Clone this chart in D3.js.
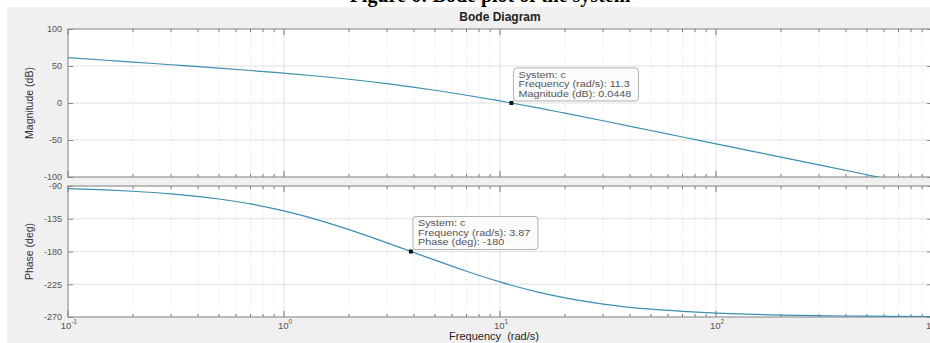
<!DOCTYPE html>
<html>
<head>
<meta charset="utf-8">
<script src="https://cdn.jsdelivr.net/npm/d3@7"></script>
<style>
  body { margin: 0; background: #fff; }
  svg { display: block; }
  text { font-family: "Liberation Sans", Arial, sans-serif; }
</style>
</head>
<body>
<div id="chart"></div>
<script>
// Frequencies (rad/s)
const freq = [0.1, 0.15, 0.2, 0.3, 0.5, 0.7, 1, 1.5, 2, 3, 3.87, 5, 7, 10, 11.3, 15, 20, 30, 50, 70, 100, 150, 200, 300, 500, 700, 1000];
// Magnitude (dB)
const magnitude = [61.4, 57.8, 55.3, 51.7, 47.1, 43.9, 40.3, 35.8, 32.1, 26.1, 21.8, 17.2, 10.5, 2.8, 0.0, -6.7, -13.8, -24.0, -37.2, -45.9, -55.2, -65.7, -73.2, -83.7, -97.0, -105.8, -115.1];
// Phase (deg)
const phase = [-93.6, -95.4, -97.2, -100.8, -107.9, -114.6, -124.2, -138.2, -149.9, -168.1, -180, -191.9, -207.1, -221.8, -226.4, -235.8, -243.7, -252.2, -259.2, -262.2, -264.6, -266.4, -267.3, -268.2, -268.9, -269.2, -269.5];

const magTicks = [-100, -50, 0, 50, 100];
const phaseTicks = [-270, -225, -180, -135, -90];
const decades = [0.1, 1, 10, 100, 1000];

const magTip = { w: 11.3, v: 0.0448, lines: ["System: c", "Frequency (rad/s): 11.3", "Magnitude (dB): 0.0448"] };
const phaseTip = { w: 3.87, v: -180, lines: ["System: c", "Frequency (rad/s): 3.87", "Phase (deg): -180"] };

const W = 930, H = 343;
const lineColor = "#3d8fae";

const svg = d3.select("#chart").append("svg")
    .attr("width", W)
    .attr("height", H);

// cropped caption strip above the figure
svg.append("text")
    .attr("x", 490).attr("y", 2)
    .attr("text-anchor", "middle")
    .style("font-family", "'Liberation Serif', 'DejaVu Serif', serif")
    .style("font-weight", "bold")
    .style("font-size", "20px")
    .text("Figure 6: Bode plot of the system");

// figure background
svg.append("rect")
    .attr("x", 7).attr("y", 7)
    .attr("width", W - 7).attr("height", H - 7)
    .attr("fill", "#f0f0f0");

const x = d3.scaleLog().domain([0.1, 1000]).range([68, 932]);
const yMag = d3.scaleLinear().domain([-100, 100]).range([177, 29]);
const yPh = d3.scaleLinear().domain([-270, -90]).range([317, 186]);

// minor decade positions 2..9
const minor = [];
decades.slice(0, -1).forEach(d => { for (let k = 2; k <= 9; k++) minor.push(d * k); });

function panel(y, ticks, values, label, tip, clipId) {
  const [y0, y1] = y.range(); // bottom, top
  const g = svg.append("g");

  g.append("rect")
      .attr("x", x.range()[0]).attr("y", y1)
      .attr("width", x.range()[1] - x.range()[0]).attr("height", y0 - y1)
      .attr("fill", "#fff");

  // minor vertical grid (dotted)
  g.selectAll(".minor-grid").data(minor).enter().append("line")
      .attr("x1", d => x(d)).attr("x2", d => x(d))
      .attr("y1", y1).attr("y2", y0)
      .attr("stroke", "#e2e2e2")
      .attr("stroke-dasharray", "1,2");

  // major grid
  g.selectAll(".vgrid").data(decades).enter().append("line")
      .attr("x1", d => x(d)).attr("x2", d => x(d))
      .attr("y1", y1).attr("y2", y0)
      .attr("stroke", "#e0e0e0");
  g.selectAll(".hgrid").data(ticks).enter().append("line")
      .attr("x1", x.range()[0]).attr("x2", x.range()[1])
      .attr("y1", d => y(d)).attr("y2", d => y(d))
      .attr("stroke", "#e0e0e0");

  // y axis (ticks point inward)
  const ax = g.append("g")
      .attr("transform", `translate(${x.range()[0]},0)`)
      .call(d3.axisLeft(y).tickValues(ticks).tickSize(-5).tickPadding(6).tickFormat(d => d));
  ax.select(".domain").remove();
  ax.selectAll("line").attr("stroke", "#888");
  ax.selectAll("text").attr("fill", "#555").style("font-size", "9px");

  const axr = g.append("g")
      .attr("transform", `translate(${x.range()[1]},0)`)
      .call(d3.axisRight(y).tickValues(ticks).tickSize(-5).tickFormat(""));
  axr.select(".domain").remove();
  axr.selectAll("line").attr("stroke", "#888");

  // x ticks on top and bottom edges, inward
  [[y0, -1], [y1, 1]].forEach(([yy, dir]) => {
    g.selectAll(null).data(minor).enter().append("line")
        .attr("x1", d => x(d)).attr("x2", d => x(d))
        .attr("y1", yy).attr("y2", yy + dir * 3)
        .attr("stroke", "#777");
    g.selectAll(null).data(decades).enter().append("line")
        .attr("x1", d => x(d)).attr("x2", d => x(d))
        .attr("y1", yy).attr("y2", yy + dir * 6)
        .attr("stroke", "#777");
  });

  // box
  g.append("rect")
      .attr("x", x.range()[0]).attr("y", y1)
      .attr("width", x.range()[1] - x.range()[0]).attr("height", y0 - y1)
      .attr("fill", "none")
      .attr("stroke", "#8a8a8a");

  // curve
  svg.append("clipPath").attr("id", clipId).append("rect")
      .attr("x", x.range()[0]).attr("y", y1)
      .attr("width", x.range()[1] - x.range()[0]).attr("height", y0 - y1);
  g.append("path")
      .datum(freq.map((f, i) => [f, values[i]]))
      .attr("clip-path", `url(#${clipId})`)
      .attr("fill", "none")
      .attr("stroke", lineColor)
      .attr("stroke-width", 1.2)
      .attr("d", d3.line().x(d => x(d[0])).y(d => y(d[1])).curve(d3.curveMonotoneX));

  // y label
  g.append("text")
      .attr("transform", `translate(33,${(y0 + y1) / 2}) rotate(-90)`)
      .attr("text-anchor", "middle")
      .attr("fill", "#333")
      .style("font-size", "10.5px")
      .text(label);

  // data tip
  const px = x(tip.w), py = y(tip.v);
  const tg = g.append("g").attr("transform", `translate(${px + 2},${py - 35})`);
  tg.append("rect")
      .attr("width", 125).attr("height", 33)
      .attr("rx", 3)
      .attr("fill", "#fbfbfb").attr("fill-opacity", 0.92)
      .attr("stroke", "#b0b0b0");
  tg.append("g")
      .attr("transform", "translate(5,0) scale(1.2,1)")
      .selectAll("text").data(tip.lines).enter().append("text")
      .attr("y", (d, i) => 10 + i * 9.5)
      .attr("fill", "#555")
      .style("font-size", "9px")
      .text(d => d);
  g.append("rect")
      .attr("x", px - 2).attr("y", py - 2)
      .attr("width", 4).attr("height", 4)
      .attr("fill", "#111");
}

panel(yMag, magTicks, magnitude, "Magnitude (dB)", magTip, "clipMag");
panel(yPh, phaseTicks, phase, "Phase (deg)", phaseTip, "clipPh");

// x tick labels, 10 with superscript exponent
const xl = svg.append("g");
decades.forEach(d => {
  const t = xl.append("text")
      .attr("x", x(d) + 1).attr("y", 329)
      .attr("text-anchor", "middle")
      .attr("fill", "#555")
      .style("font-size", "9.5px");
  t.append("tspan").text("10");
  t.append("tspan")
      .attr("dy", -5)
      .style("font-size", "6.5px")
      .text(Math.round(Math.log10(d)));
});

// title and x label
svg.append("text")
    .attr("x", 500).attr("y", 21)
    .attr("text-anchor", "middle")
    .attr("fill", "#222")
    .style("font-size", "12px")
    .style("font-weight", "bold")
    .text("Bode Diagram");

svg.append("text")
    .attr("x", 494).attr("y", 340)
    .attr("text-anchor", "middle")
    .attr("fill", "#222")
    .style("font-size", "11px")
    .attr("xml:space", "preserve")
    .text("Frequency  (rad/s)");
</script>
</body>
</html>
